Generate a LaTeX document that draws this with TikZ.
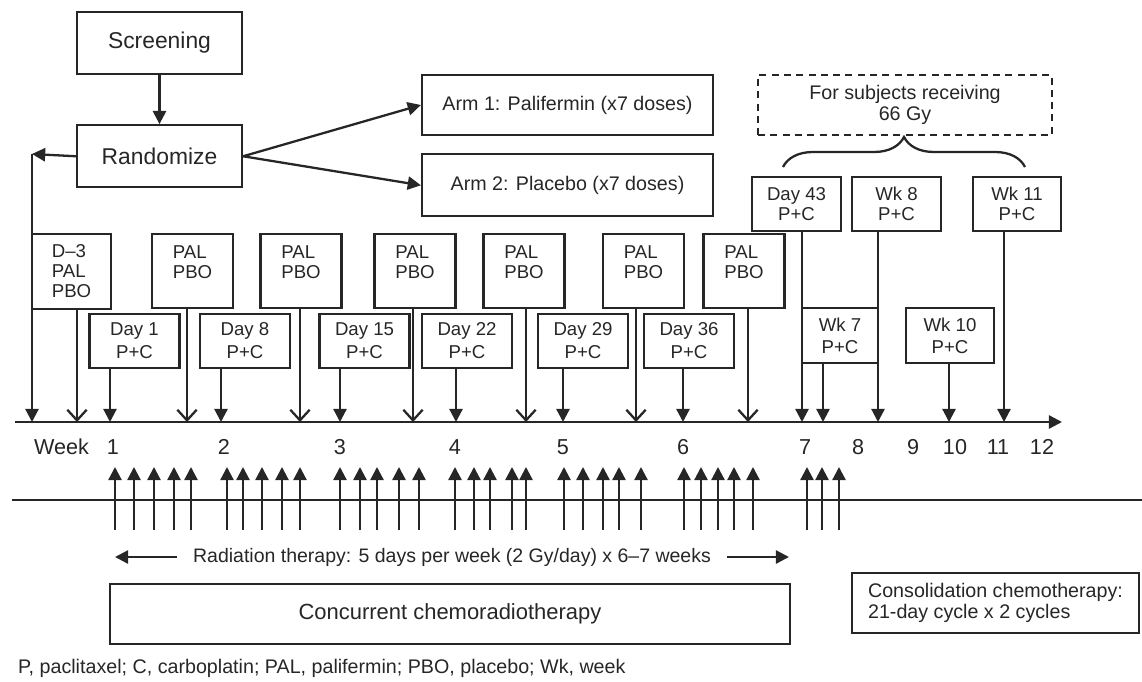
\documentclass[tikz,border=0pt]{standalone}
\usepackage{fontspec}
\setmainfont{Liberation Sans}
\usepackage{tikz}
\usetikzlibrary{arrows.meta,positioning,decorations.pathreplacing}

\begin{document}
\begin{tikzpicture}[x=0.02cm, y=-0.02cm, line width=1.3pt, color=black!85,
    box/.style={draw, inner sep=0pt, align=center},
    tip/.style={-{Triangle[length=7.5pt,width=7.5pt]}},
    vtip/.style={-{Straight Barb[length=6pt,width=11pt]}},
    small/.style={font=\fontsize{10.6}{11.4}\selectfont, align=center},
    mid/.style={font=\fontsize{11.2}{12.4}\selectfont}]
\useasboundingbox (0,0) rectangle (1142,682);
% Screening and randomisation
\node[box, minimum width=3.3cm, minimum height=1.24cm, font=\fontsize{13}{15}\selectfont] (scr) at (159.5,43) {Screening};
\node[box, minimum width=3.3cm, minimum height=1.24cm, font=\fontsize{13}{15}\selectfont, below=0.98cm of scr] (rand) {Randomize};
\draw[tip] (scr) -- (rand);
\node[box, mid, minimum width=5.82cm, minimum height=1.2cm] (arm1) at (567.5,105) {Arm 1: Palifermin (x7 doses)};
\node[box, mid, minimum width=5.82cm, minimum height=1.24cm, below=0.34cm of arm1] (arm2) {Arm 2: Placebo (x7 doses)};
\draw[tip] (rand.east) -- (arm1.west);
\draw[tip] (rand.east) -- (arm2.west);
% time axis
\coordinate (ax0) at (15,422);
\coordinate (ax1) at (1062,422);
\draw[tip] (ax0) -- (ax1);
\foreach \n/\x in {rz/32, d3/77, p1/187, p2/300, p3/413, p4/526, p5/636, p6/748,
    c1/110, c2/221, c3/340, c4/456, c5/563, c6/683,
    c43/802, w7/823, w8/878, w10/949, w11/1004}
  \coordinate (t\n) at (\x,422);
\coordinate (corner) at (32,154);
\draw[tip] (rand.west) -- (corner);
\draw[tip] (corner) -- (trz);
% study drug doses
\node[box, small, align=left, minimum width=1.58cm, minimum height=1.5cm] (dm3) at (71.5,271.5) {D–3\\PAL\\PBO};
\draw[vtip] (dm3.south -| td3) -- (td3);
\foreach \i/\x in {1/192.5, 2/301, 3/415, 4/524, 5/643.5, 6/744} {
  \node[box, minimum width=1.62cm, minimum height=1.48cm] (pal\i) at (\x,271) {};
  \node[small, align=left] at ([yshift=0.18cm]pal\i.center) {PAL\\PBO};
  \draw[vtip] (pal\i.south -| tp\i) -- (tp\i);
}
% chemotherapy doses
\foreach \i/\x/\d in {1/134.5/1, 2/245/8, 3/364.5/15, 4/467/22, 5/583/29, 6/689/36} {
  \node[box, small, font=\fontsize{10.6}{13}\selectfont, minimum width=1.8cm, minimum height=1.08cm] (day\i) at (\x,341) {Day \d\\P+C};
  \draw[tip] (day\i.south -| tc\i) -- (tc\i);
}
\node[box, small, minimum width=1.78cm, minimum height=1.08cm] (d43) at (796.5,204) {Day 43\\P+C};
\node[box, small, minimum width=1.78cm, minimum height=1.08cm] (wk8) at (896.5,204) {Wk 8\\P+C};
\node[box, small, minimum width=1.76cm, minimum height=1.08cm] (wk11) at (1017,204) {Wk 11\\P+C};
\node[box, small, font=\fontsize{10.6}{12.4}\selectfont, minimum width=1.52cm, minimum height=1.1cm] (wk7) at (840,335.5) {Wk 7\\P+C};
\node[box, small, font=\fontsize{10.6}{12.4}\selectfont, minimum width=1.76cm, minimum height=1.1cm] (wk10) at (950,335.5) {Wk 10\\P+C};
\draw[tip] (d43.south -| tc43) -- (tc43);
\draw[tip] (wk8.south -| tw8) -- (tw8);
\draw[tip] (wk11.south -| tw11) -- (tw11);
\draw[tip] (wk7.south -| tw7) -- (tw7);
\draw[tip] (wk10.south -| tw10) -- (tw10);
% 66 Gy group
\node[box, mid, dashed, dash pattern=on 4pt off 3pt, minimum width=5.88cm, minimum height=1.2cm] (gy66) at (905,105) {For subjects receiving\\66 Gy};
\coordinate (br0) at (783,167);
\coordinate (br1) at (1025,167);
\draw[decorate, decoration={brace, amplitude=0.6cm}] (br0) -- (br1);
% week numbers
\node[font=\fontsize{12.3}{14}\selectfont] (wlab) at (61.5,447) {Week};
\foreach \n/\x in {1/113, 2/224, 3/340, 4/455, 5/563, 6/683, 7/805, 8/858, 9/913, 10/955, 11/998, 12/1042}
  \node[font=\fontsize{12.3}{14}\selectfont] (w\n) at (\x,447) {\n};
% radiation fractions
\draw (12,500) -- (1142,500);
\foreach \x in {115,134,154,174,191, 227,243,262,282,300, 340,360,377,399,419,
    455,474,490,512,526, 564,583,603,619,641, 684,701,718,734,753, 807,822,839}
  \draw[tip] (\x,530) -- (\x,467);
\node[font=\fontsize{11.1}{13}\selectfont, inner xsep=0.3cm] (rt) at (452,557) {Radiation therapy: 5 days per week (2 Gy/day) x 6–7 weeks};
\coordinate (rl) at (115,557);
\coordinate (rr) at (789,557);
\draw[tip] (rt.west) -- (rl);
\draw[tip] (rt.east) -- (rr);
% phases
\node[box, font=\fontsize{12.5}{14}\selectfont, minimum width=13.6cm, minimum height=1.2cm] (ccrt) at (450,614) {Concurrent chemoradiotherapy};
\node[box, mid, align=left, font=\fontsize{11.2}{12}\selectfont, minimum width=5.74cm, minimum height=1.2cm] (cons) at (995.5,603) {Consolidation chemotherapy:\\21-day cycle x 2 cycles};
% Legend
\node[anchor=west, inner sep=0pt, font=\fontsize{11.2}{13}\selectfont] (key) at (17,668) {P, paclitaxel; C, carboplatin; PAL, palifermin; PBO, placebo; Wk, week};
\end{tikzpicture}
\end{document}
